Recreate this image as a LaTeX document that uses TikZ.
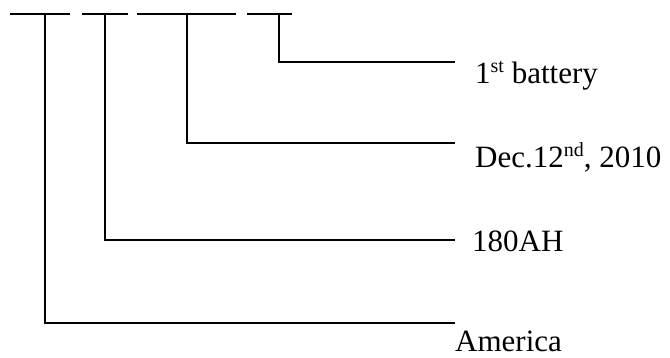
\documentclass[tikz,border=0pt]{standalone}
\usepackage{fontspec}
\setmainfont{Liberation Serif}
\newcommand{\supx}[1]{\raisebox{11pt}{\fontsize{20}{20}\selectfont #1}}
\begin{document}
\begin{tikzpicture}[x=1pt,y=-1pt,
  ln/.style={line width=2pt},
  lbl/.style={anchor=base west,inner sep=0pt,font=\fontsize{31}{37}\selectfont}]
\useasboundingbox (0,0) rectangle (670,358);
% top segments
\coordinate (s1a) at (10,14); \coordinate (s1b) at (70,14);
\coordinate (s2a) at (82,14); \coordinate (s2b) at (128,14);
\coordinate (s3a) at (137,14); \coordinate (s3b) at (236,14);
\coordinate (s4a) at (247,14); \coordinate (s4b) at (292,14);
\draw[ln] (s1a) -- (s1b);
\draw[ln] (s2a) -- (s2b);
\draw[ln] (s3a) -- (s3b);
\draw[ln] (s4a) -- (s4b);
% branch tops
\coordinate (t1) at (45,14);
\coordinate (t2) at (105,14);
\coordinate (t3) at (187,14);
\coordinate (t4) at (279,14);
% line ends
\coordinate (e1) at (455,323);
\coordinate (e2) at (455,240);
\coordinate (e3) at (455,143);
\coordinate (e4) at (455,62);
% labels
\node[lbl] (l4) at (475,84) {1\supx{st} battery};
\node[lbl] (l3) at (475,168) {Dec.12\supx{nd}, 2010};
\node[lbl] (l2) at (472,252) {180AH};
\node[lbl] (l1) at (455,352) {America};
% connectors
\draw[ln] (t1) |- (e1);
\draw[ln] (t2) |- (e2);
\draw[ln] (t3) |- (e3);
\draw[ln] (t4) |- (e4);
\end{tikzpicture}
\end{document}
